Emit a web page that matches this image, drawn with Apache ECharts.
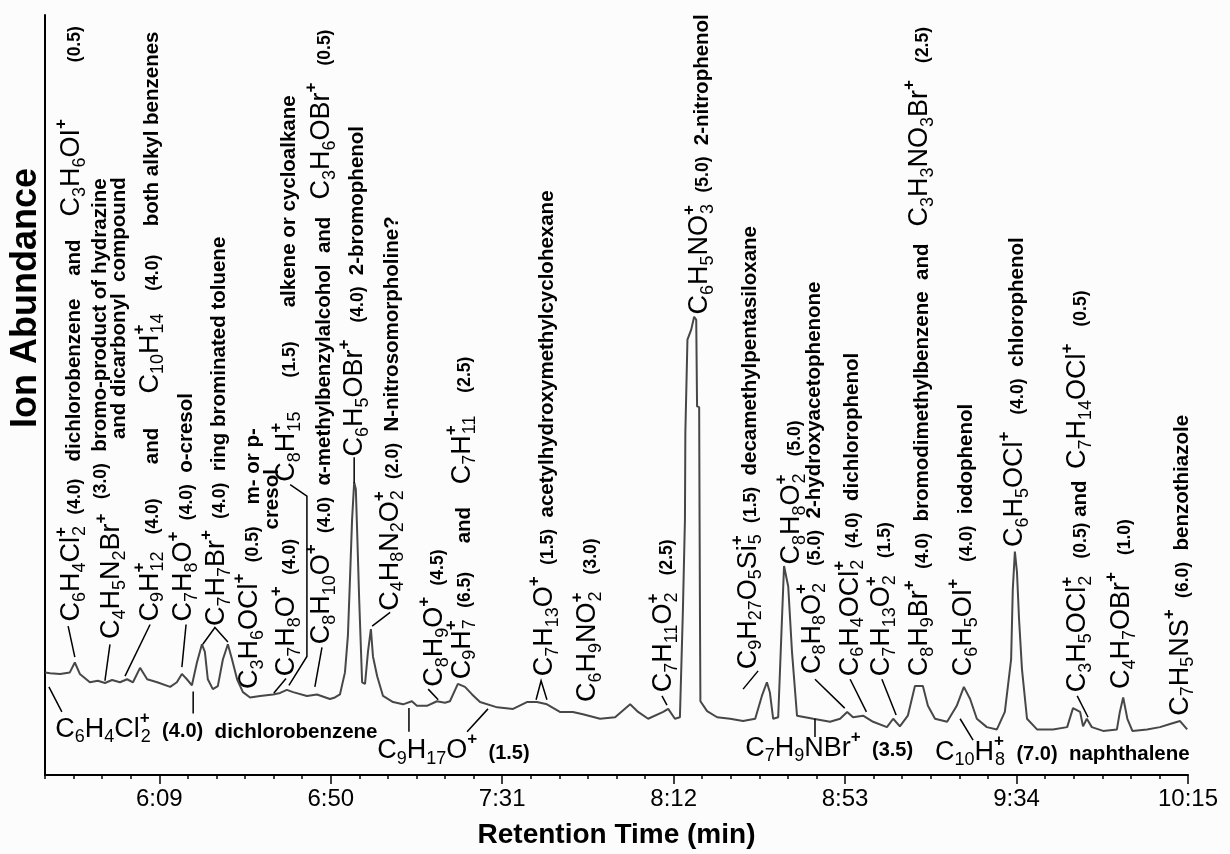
<!DOCTYPE html>
<html lang="en">
<head>
<meta charset="UTF-8">
<title>Ion Abundance vs Retention Time</title>
<script src="https://cdn.jsdelivr.net/npm/echarts@6/dist/echarts.min.js"></script>
<style>html,body{margin:0;background:#fcfcfc}</style>
</head>
<body>
<div id="chart" style="width:1230px;height:854px;"></div>
<script>
// trace: retention time (s) and abundance (% of axis height)
var traceTime = [341.7,342.9,345.3,347.6,348.8,350.0,352.4,354.3,356.0,357.7,
  359.6,361.3,362.7,364.4,366.1,368.5,371.6,373.2,374.4,375.6,
  376.8,378.0,379.2,379.9,380.6,381.8,383.0,384.2,385.4,386.4,
  387.6,389.0,390.7,393.1,396.2,397.9,399.5,401.0,404.3,406.7,
  409.8,411.0,412.2,413.4,414.1,414.6,415.1,415.6,416.0,416.3,
  416.8,417.5,418.2,418.9,419.6,420.1,421.1,422.5,424.9,427.3,
  429.4,430.6,433.0,435.4,437.3,438.5,440.4,442.1,443.8,445.7,
  449.8,453.6,456.9,459.3,461.7,464.8,467.9,470.3,474.4,478.0,
  481.6,483.5,485.9,489.5,490.7,492.3,493.5,494.2,494.7,494.8,
  495.2,495.3,496.2,496.9,497.4,497.6,498.1,498.2,498.3,498.4,
  500.0,502.4,505.5,508.6,511.5,513.1,514.3,515.0,515.8,517.0,
  517.9,518.4,519.4,520.3,521.5,525.4,529.4,531.8,533.5,534.9,
  537.3,539.7,543.0,544.5,546.1,548.0,549.7,551.6,552.8,554.5,
  557.4,559.7,561.4,562.9,564.5,566.9,569.3,571.2,572.7,573.1,
  573.6,574.1,574.6,575.3,576.5,578.9,582.7,586.1,587.5,589.2,
  589.9,590.8,592.0,594.7,598.0,598.7,599.5,600.5,601.7,605.2,
  608.3,610.7,613.1,614.8];
var traceAbund = [13.5,13.4,13.3,13.5,14.8,13.3,12.2,12.4,12.1,12.5,
  12.2,12.6,12.2,14.1,12.6,12.2,11.6,12.2,13.3,12.6,
  11.8,14.8,17.2,16.2,12.6,11.3,11.7,15.2,17.2,15.2,
  12.6,10.9,10.2,10.4,10.6,10.8,11.2,10.9,10.4,10.6,
  10.0,10.2,10.6,13.5,18.3,25.8,33.6,38.5,37.6,32.3,
  23.1,12.2,12.0,16.2,19.2,15.6,13.0,10.4,9.6,9.3,
  9.7,9.1,9.1,9.7,9.5,9.7,12.0,11.6,10.6,9.6,
  8.9,8.7,9.6,9.6,9.3,8.3,8.3,8.0,7.4,7.6,
  9.3,8.3,7.4,8.3,8.7,7.4,7.6,21.4,33.6,45.1,
  45.1,57.3,58.6,60.3,59.9,48.5,48.4,33.6,20.5,9.7,
  8.4,7.6,7.4,7.1,7.4,10.4,12.2,10.9,7.4,7.6,
  20.5,27.5,24.8,16.2,7.8,7.4,7.0,7.4,8.3,7.6,
  7.8,7.0,6.3,7.4,6.4,7.8,11.7,11.7,9.1,7.4,
  7.0,9.1,11.6,10.0,7.4,6.3,6.0,8.3,15.2,24.4,
  29.4,26.7,20.5,13.9,7.4,6.0,6.0,6.3,8.8,8.3,
  6.4,7.4,6.3,5.8,6.0,8.3,10.2,7.4,5.8,6.0,
  6.3,6.7,7.1,6.0];

// axis: 6:09 ... 10:15, labelled every 41 s
var tickTimes = [369, 410, 451, 492, 533, 574, 615];
var axisStart = 2050 / 6, axisEnd = 615;

// vertical labels, foot of each label in data units; [..] = formula
var vLabelTime = [348.1,357.7,354.8,359.4,366.8,374.9,382.8,390.7,391.6,399.5,
  396.0,399.5,407.9,415.8,424.2,434.9,441.4,461.2,471.5,489.7,498.3,
  509.8,520.3,525.1,534.2,541.8,550.9,561.4,573.6,588.7,599.2,613.1];
var vLabelAbund = [20.2,17.9,36.3,44.2,20.2,20.2,19.6,11.3,35.6,13.0,
  32.3,38.6,17.2,41.9,21.6,11.6,12.6,13.0,9.6,10.9,60.6,
  13.9,27.7,13.3,13.0,13.0,13.0,13.0,30.0,10.9,11.3,7.8];
var vLabelText = [
  '[C6H4Cl2+]  (4.0)   dichlorobenzene    and    [C3H6OI+]          (0.5)',
  '[C4H5N2Br+]',
  '(3.0)  bromo-product of hydrazine',
  'and dicarbonyl  compound',
  '[C9H12+]   (4.0)      and      [C10H14+]    (4.0)     both alkyl benzenes',
  '[C7H8O+]  (4.0)  o-cresol',
  '[C7H7Br+]  (4.0)  ring brominated toluene',
  '[C3H6OCl+]  (0.5)',
  'm- or p-',
  '[C7H8O+]  (4.0)',
  'cresol',
  '[C8H15+]      (1.5)      alkene or cycloalkane',
  '[C8H10O+]  (4.0)  \u03b1-methylbenzylalcohol  and   [C3H6OBr+]   (0.5)',
  '[C6H5OBr+]   (4.0)  2-bromophenol',
  '[C4H8N2O2+]  (2.0)  N-nitrosomorpholine?',
  '[C8H9O+]  (4.5)',
  '[C9H7+]  (6.5)     and    [C7H11+]    (2.5)',
  '[C7H13O+]  (1.5)  acetylhydroxymethylcyclohexane',
  '[C6H9NO2+]   (3.0)',
  '[C7H11O2+]   (2.5)',
  '[C6H5NO3+]  (5.0)  2-nitrophenol',
  '[C9H27O5Si5+]  (1.5)  decamethylpentasiloxane',
  '[C8H8O2+]   (5.0)',
  '[C8H8O2+]   (5.0)  2-hydroxyacetophenone',
  '[C6H4OCl2+]  (4.0)  dichlorophenol',
  '[C7H13O2+]   (1.5)',
  '[C8H9Br+]  (4.0)  bromodimethylbenzene  and   [C3H3NO3Br+]   (2.5)',
  '[C6H5OI+]   (4.0)  iodophenol',
  '[C6H5OCl+]   (4.0)  chlorophenol',
  '[C3H5OCl2+]   (0.5) and  [C7H14OCl+]   (0.5)',
  '[C4H7OBr+]   (1.0)',
  '[C7H5NS+]  (6.0)  benzothiazole'
];

// horizontal labels under the trace, left end in data units
var hLabelTime = [344.1, 421.1, 509.1, 554.5];
var hLabelAbund = [6.0, 3.2, 3.5, 3.0];
var hLabelText = [
  '[C6H4Cl2+]  (4.0)  dichlorobenzene',
  '[C9H17O+]  (1.5)',
  '[C7H9NBr+]  (3.5)',
  '[C10H8+]  (7.0)  naphthalene'
];

// leader lines from labels to peaks
var leaderPaths = [
  [[347.2,19.6],[348.8,15.5]],
  [[357.2,17.2],[356.0,12.4]],
  [[366.8,19.8],[360.8,13.0]],
  [[375.4,19.8],[374.4,14.2]],
  [[379.4,17.2],[382.3,19.4],[385.4,17.5]],
  [[399.3,12.7],[396.4,10.8]],
  [[400.3,38.2],[404.3,36.7],[404.3,15.6],[400.0,11.8]],
  [[407.9,16.8],[406.2,11.6]],
  [[415.6,41.8],[415.6,38.4]],
  [[424.2,21.4],[419.9,19.6]],
  [[433.3,11.3],[435.7,9.9]],
  [[459.1,9.9],[460.3,12.4],[461.7,9.9]],
  [[489.2,10.4],[490.4,9.2]],
  [[508.6,11.3],[512.2,13.7]],
  [[525.8,12.6],[532.9,8.8]],
  [[534.2,12.6],[538.1,8.3]],
  [[541.8,12.6],[545.2,7.9]],
  [[588.5,10.4],[591.1,7.6]],
  [[342.6,11.6],[345.7,8.3]],
  [[377.1,11.0],[377.1,8.1]],
  [[428.7,8.8],[428.7,5.7]],
  [[447.6,8.7],[442.6,5.7]],
  [[525.8,7.4],[525.8,5.0]],
  [[560.5,7.4],[563.6,4.6]]
];

var FONT = 'Liberation Sans, Arial, sans-serif';

function fmtTime(s) {
  var m = Math.floor(s / 60), r = Math.round(s - m * 60);
  return m + ':' + (r < 10 ? '0' : '') + r;
}

// markup -> rich text: formulas get subscripts and a stacked '+'
function richOf(markup, horiz) {
  var out = '';
  markup.split(/(\[[^\]]+\])/).forEach(function (part) {
    if (!part) return;
    if (part.charAt(0) === '[') {
      var m = part.slice(1, -1).match(/[A-Za-z]+|\d+|\+/g);
      m.forEach(function (tok, i) {
        if (tok === '+') {
          if (!/\d/.test(m[i - 1])) out += '{p|+}';
        } else if (/\d/.test(tok)) {
          if (m[i + 1] === '+') out += '{pz|+}';
          out += '{s|' + tok + '}';
        } else {
          out += '{f|' + tok + '}';
        }
      });
    } else {
      part.split(/(\([\d.]+\))/).forEach(function (q) {
        if (!q) return;
        out += (q.charAt(0) === '(' ? (horiz ? '{N|' : '{n|') : '{w|') + q + '}';
      });
    }
  });
  return out;
}

function tok(size, h, va, bold, extra) {
  var s = { fontFamily: FONT, fontSize: size, height: h, lineHeight: h,
    verticalAlign: va, color: '#000', fontWeight: bold ? 'bold' : 'normal' };
  for (var k in extra) s[k] = extra[k];
  return s;
}
var rich = {
  f: tok(27, 30, 'bottom', false),
  s: tok(18, 14, 'bottom', false),
  p: tok(17, 8, 'top', true),
  pz: tok(17, 8, 'top', true, { width: 1, align: 'left' }),
  w: tok(20.5, 25, 'bottom', true),
  n: tok(17.5, 23, 'bottom', true),
  N: tok(20, 25, 'bottom', true)
};

var chart = echarts.init(document.getElementById('chart'));

chart.setOption({
  animation: false,
  backgroundColor: '#fcfcfc',
  grid: { left: 45, right: 42, top: 15, bottom: 78 },
  xAxis: [{
    type: 'value', min: axisStart, max: axisEnd,
    name: 'Retention Time (min)', nameLocation: 'middle', nameGap: 46,
    nameTextStyle: { fontFamily: FONT, fontSize: 28, fontWeight: 'bold', color: '#000' },
    axisLine: { onZero: false, lineStyle: { color: '#000', width: 2 } },
    axisTick: { customValues: tickTimes, length: 9, lineStyle: { color: '#000', width: 1.5 } },
    axisLabel: {
      customValues: tickTimes, margin: 12, formatter: fmtTime,
      fontFamily: FONT, fontSize: 24, color: '#000'
    },
    splitLine: { show: false }
  }, {
    type: 'value', min: axisStart, max: axisEnd, interval: 41 / 6, position: 'bottom',
    axisLine: { show: false },
    axisTick: { length: 4, lineStyle: { color: '#000', width: 1.5 } },
    axisLabel: { show: false },
    splitLine: { show: false }
  }],
  yAxis: {
    type: 'value', min: 0, max: 100,
    axisLine: { show: true, lineStyle: { color: '#000', width: 2 } },
    axisTick: { show: false }, axisLabel: { show: false }, splitLine: { show: false }
  },
  series: [{
    type: 'line',
    data: traceTime.map(function (t, i) { return [t, traceAbund[i]]; }),
    showSymbol: false,
    lineStyle: { color: '#474747', width: 2 },
    z: 2
  }, {
    type: 'lines',
    coordinateSystem: 'cartesian2d',
    polyline: true,
    silent: true,
    data: leaderPaths.map(function (p) { return { coords: p }; }),
    lineStyle: { color: '#000', width: 1.5, opacity: 1 },
    z: 3
  }]
});

var graphics = [{
  type: 'text', x: 26, y: 298, rotation: Math.PI / 2, silent: true,
  style: { text: 'Ion Abundance', fontFamily: FONT, fontSize: 36, fontWeight: 'bold',
    fill: '#000', align: 'center', verticalAlign: 'middle' }
}];

vLabelText.forEach(function (txt, i) {
  var p = chart.convertToPixel({ xAxisIndex: 0, yAxisIndex: 0 }, [vLabelTime[i], vLabelAbund[i]]);
  graphics.push({
    type: 'text', x: p[0], y: p[1], rotation: Math.PI / 2, silent: true,
    style: { text: richOf(txt, false), rich: rich, align: 'left', verticalAlign: 'middle' }
  });
});
hLabelText.forEach(function (txt, i) {
  var p = chart.convertToPixel({ xAxisIndex: 0, yAxisIndex: 0 }, [hLabelTime[i], hLabelAbund[i]]);
  graphics.push({
    type: 'text', x: p[0], y: p[1], silent: true,
    style: { text: richOf(txt, true), rich: rich, align: 'left', verticalAlign: 'middle' }
  });
});

chart.setOption({ graphic: graphics });
</script>
</body>
</html>
